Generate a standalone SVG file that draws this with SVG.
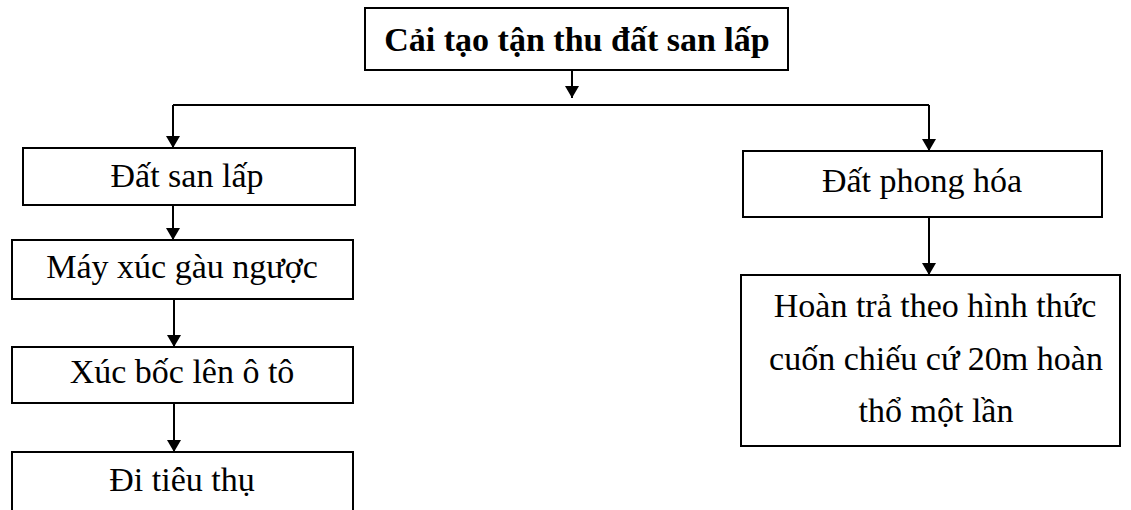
<svg xmlns="http://www.w3.org/2000/svg" width="1131" height="510" viewBox="0 0 1131 510">
<style>
.box{fill:#fff;stroke:#000;stroke-width:2}
.t{font-family:"Liberation Serif","Times New Roman",serif;font-size:34px;fill:#000;text-anchor:middle}
.b{font-weight:bold;font-size:34px}
.c{fill:none;stroke:#000;stroke-width:2}
</style>
<defs>
<marker id="ah" viewBox="0 0 12 14" refX="12" refY="7" markerWidth="12" markerHeight="14" markerUnits="userSpaceOnUse" orient="auto">
<path d="M0,0 L12,7 L0,14 Z" fill="#000"/>
</marker>
</defs>
<g id="connectors">
<path class="c" d="M572,70 V98" marker-end="url(#ah)"/>
<path class="c" d="M173,105 H929"/>
<path class="c" d="M173,105 V148" marker-end="url(#ah)"/>
<path class="c" d="M929,105 V151" marker-end="url(#ah)"/>
<path class="c" d="M173,205 V240" marker-end="url(#ah)"/>
<path class="c" d="M174,299 V347" marker-end="url(#ah)"/>
<path class="c" d="M174,403 V452" marker-end="url(#ah)"/>
<path class="c" d="M929,217 V275" marker-end="url(#ah)"/>
</g>
<g id="n-root"><rect class="box" x="365" y="8" width="423" height="62"/><text class="t b" x="577" y="51">Cải tạo tận thu đất san lấp</text></g>
<g id="n-sanlap"><rect class="box" x="23" y="148" width="332" height="57"/><text class="t" x="187" y="187">Đất san lấp</text></g>
<g id="n-mayxuc"><rect class="box" x="12" y="240" width="341" height="59"/><text class="t" x="182" y="278">Máy xúc gàu ngược</text></g>
<g id="n-xucboc"><rect class="box" x="12" y="347" width="341" height="56"/><text class="t" x="182" y="383">Xúc bốc lên ô tô</text></g>
<g id="n-ditieuthu"><rect class="box" x="12" y="452" width="341" height="70"/><text class="t" x="182" y="491">Đi tiêu thụ</text></g>
<g id="n-phonghoa"><rect class="box" x="743" y="151" width="359" height="66"/><text class="t" x="922" y="192">Đất phong hóa</text></g>
<g id="n-hoantra"><rect class="box" x="741" y="275" width="379" height="171"/>
<text class="t" x="935" y="317">Hoàn trả theo hình thức</text>
<text class="t" x="936" y="370">cuốn chiếu cứ 20m hoàn</text>
<text class="t" x="936" y="422">thổ một lần</text></g>
</svg>
